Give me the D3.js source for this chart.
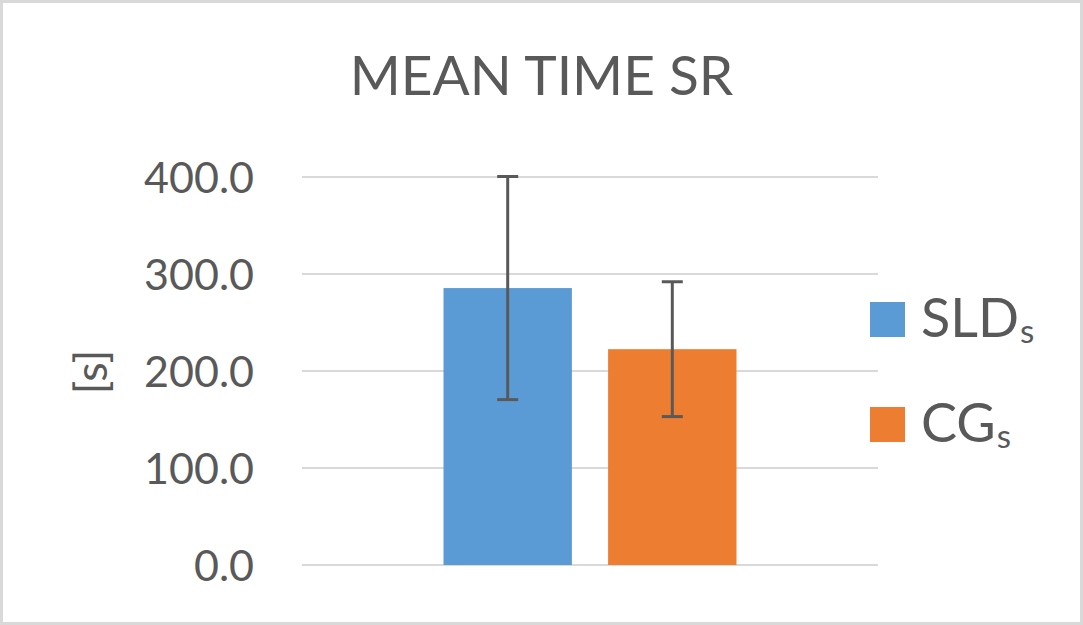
<!DOCTYPE html>
<html><head><meta charset="utf-8">
<script src="https://cdn.jsdelivr.net/npm/d3@7"></script>
<style>body{margin:0;background:#fff}svg{display:block}text{font-family:Lato,"Open Sans",sans-serif;fill:#595959}</style>
</head><body>
<svg id="c" width="1083" height="625"></svg>
<script>
const categories = ["SR"];
const series = ["SLD", "CG"];
const seriesSub = ["s", "s"];
const means = [285.5, 222.5];
const errors = [115, 69.5];
const yTicks = [0, 100, 200, 300, 400];
const title = "MEAN TIME SR";
const yLabel = "[s]";
const colors = ["#5B9BD5", "#ED7D31"];

const svg = d3.select("#c");
const W = 1083, H = 625;
svg.append("rect").attr("x",1.5).attr("y",1.5).attr("width",W-3).attr("height",H-3)
  .attr("fill","#fff").attr("stroke","#D9D9D9").attr("stroke-width",3);

const plot = {left:302, right:878, top:177, bottom:565};
const y = d3.scaleLinear().domain([0,400]).range([plot.bottom, plot.top]);
const x0 = d3.scaleBand().domain(categories).range([plot.left, plot.right]).paddingInner(0).paddingOuter(0.483);
const x1 = d3.scaleBand().domain(series).range([0, x0.bandwidth()]).paddingInner(0.22).paddingOuter(0);

// gridlines
svg.append("g").selectAll("line").data(yTicks).join("line")
  .attr("x1",plot.left).attr("x2",plot.right)
  .attr("y1",d=>y(d)).attr("y2",d=>y(d))
  .attr("stroke","#D9D9D9").attr("stroke-width",2);

// y axis labels
const yAxis = d3.axisLeft(y).tickValues(yTicks).tickFormat(d3.format(".1f")).tickSize(0).tickPadding(0);
const ga = svg.append("g").attr("transform",`translate(254,0)`).call(yAxis);
ga.select(".domain").remove();
ga.selectAll("text").attr("font-size",43).attr("fill","#595959").attr("font-family","Lato,'Open Sans',sans-serif").attr("dy","0.36em");

// bars
const g = svg.append("g").attr("transform",`translate(${x0(categories[0])},0)`);
g.selectAll("rect").data(series).join("rect")
  .attr("x",d=>x1(d)).attr("width",x1.bandwidth())
  .attr("y",(d,i)=>y(means[i])).attr("height",(d,i)=>y(0)-y(means[i]))
  .attr("fill",(d,i)=>colors[i]);

// error bars
const eb = g.selectAll("g.eb").data(series).join("g").attr("class","eb");
const cap = 10.5;
eb.append("line").attr("x1",d=>x1(d)+x1.bandwidth()/2).attr("x2",d=>x1(d)+x1.bandwidth()/2)
  .attr("y1",(d,i)=>y(means[i]+errors[i])).attr("y2",(d,i)=>y(means[i]-errors[i]));
eb.append("line").attr("x1",d=>x1(d)+x1.bandwidth()/2-cap).attr("x2",d=>x1(d)+x1.bandwidth()/2+cap)
  .attr("y1",(d,i)=>y(means[i]+errors[i])).attr("y2",(d,i)=>y(means[i]+errors[i]));
eb.append("line").attr("x1",d=>x1(d)+x1.bandwidth()/2-cap).attr("x2",d=>x1(d)+x1.bandwidth()/2+cap)
  .attr("y1",(d,i)=>y(means[i]-errors[i])).attr("y2",(d,i)=>y(means[i]-errors[i]));
eb.selectAll("line").attr("stroke","#595959").attr("stroke-width",3);

// title
svg.append("text").attr("x",W/2).attr("y",95).attr("text-anchor","middle")
  .attr("font-size",55).text(title);

// y label
svg.append("text").attr("transform","translate(107,372) rotate(-90)").attr("text-anchor","middle")
  .attr("font-size",45).text(yLabel);

// legend
const lg = svg.append("g").selectAll("g").data(series).join("g")
  .attr("transform",(d,i)=>`translate(870,${302+i*105})`);
lg.append("rect").attr("width",35).attr("height",35).attr("fill",(d,i)=>colors[i]);
const lt = lg.append("text").attr("x",51).attr("y",35).attr("font-size",54);
lt.append("tspan").text(d=>d);
lt.append("tspan").attr("font-size",33).attr("dx",1).attr("dy",6).text((d,i)=>seriesSub[i]);
</script>
</body></html>
